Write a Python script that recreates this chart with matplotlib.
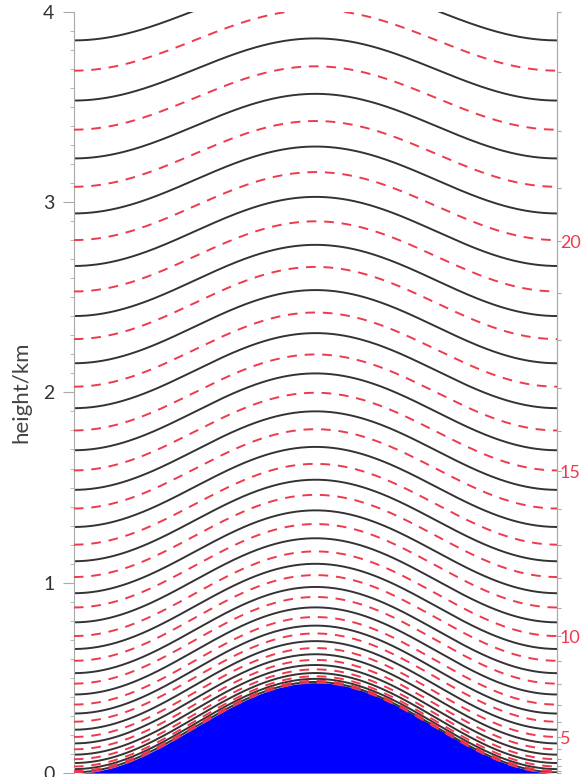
import numpy as np
import matplotlib.pyplot as plt

# level heights (km) at the flat edges of the domain
full_lev = [0.000, 0.011, 0.035, 0.073, 0.125, 0.190, 0.270, 0.360, 0.470, 0.590,
            0.720, 0.870, 1.030, 1.200, 1.390, 1.590, 1.800, 2.030, 2.280, 2.530,
            2.800, 3.080, 3.380, 3.690, 4.010, 4.330]
half_lev = [0.004, 0.021, 0.053, 0.097, 0.156, 0.228, 0.313, 0.413, 0.525, 0.652,
            0.792, 0.945, 1.113, 1.293, 1.488, 1.696, 1.917, 2.153, 2.401, 2.664,
            2.940, 3.229, 3.533, 3.849, 4.180]
lev_labels = [5, 10, 15, 20]

hill_top = 0.475   # km, crest of the hill
decay_H = 11.3     # km, height where the terrain signal would vanish

x = np.linspace(0, 1, 400)
terrain = hill_top * np.sin(np.pi * x) ** 2


def level_line(z0):
    return z0 + terrain * (1 - z0 / decay_H)


fig = plt.figure(figsize=(5.81, 7.77), dpi=100)
ax = fig.add_axes([0.127, 0.005, 0.832, 0.98])

ax.fill_between(x, 0, terrain, color="#0000ff", lw=0, zorder=1)
for z0 in half_lev:
    ax.plot(x, level_line(z0), color="#333333", lw=1.4, zorder=2)
for z0 in full_lev:
    ax.plot(x, level_line(z0), color="#ee3a4e", lw=1.4, ls=(0, (5, 4)), zorder=3)

ax.set_xlim(0, 1)
ax.set_ylim(0, 4)
ax.set_xticks([])
ax.set_yticks([0, 1, 2, 3, 4])
ax.set_yticks(np.arange(0, 4.01, 0.1), minor=True)
ax.set_ylabel("height/km", fontsize=16, color="#444444", labelpad=8, family="Lato")
ax.tick_params(axis="y", which="major", length=8, color="#aaaaaa", labelsize=14,
               labelcolor="#333333", pad=6)
ax.tick_params(axis="y", which="minor", length=3, color="#aaaaaa")
for lab in ax.get_yticklabels():
    lab.set_family("Lato")
for s in ["top", "bottom"]:
    ax.spines[s].set_visible(False)
for s in ["left", "right"]:
    ax.spines[s].set_color("#aaaaaa")

ax2 = ax.twinx()
ax2.set_ylim(0, 4)
ax2.set_yticks(full_lev[:25])
ax2.set_yticklabels([str(k) if k in lev_labels else "" for k in range(25)])
ax2.tick_params(axis="y", length=3, color="#aaaaaa", labelsize=13,
                labelcolor="#ee3a4e", pad=-1)
for lab in ax2.get_yticklabels():
    lab.set_family("Lato")
for s in ["top", "bottom", "left"]:
    ax2.spines[s].set_visible(False)
ax2.spines["right"].set_color("#aaaaaa")

fig.savefig("out.png", dpi=100)
